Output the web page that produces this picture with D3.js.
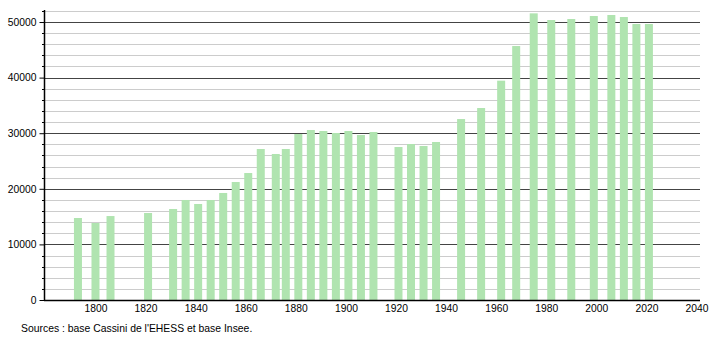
<!DOCTYPE html>
<html>
<head>
<meta charset="utf-8">
<script src="https://cdn.jsdelivr.net/npm/d3@7"></script>
<style>
  html, body { margin: 0; padding: 0; background: #fff; }
  svg text { font-family: "Liberation Sans", Arial, sans-serif; font-size: 10px; fill: #000; }
</style>
</head>
<body>
<div id="chart"></div>
<script>
// Population par recensement
var years = [1793, 1800, 1806, 1821, 1831, 1836, 1841, 1846, 1851, 1856, 1861, 1866,
             1872, 1876, 1881, 1886, 1891, 1896, 1901, 1906, 1911, 1921, 1926, 1931,
             1936, 1946, 1954, 1962, 1968, 1975, 1982, 1990, 1999, 2006, 2011, 2016, 2021];
var population = [14750, 13850, 15100, 15650, 16370, 17990, 17270, 17990, 19250, 21220, 22840, 27160,
                  26260, 27160, 29860, 30580, 30400, 30040, 30400, 29680, 30220, 27520, 28060, 27700,
                  28420, 32550, 34530, 39450, 45680, 51560, 50360, 50540, 51080, 51260, 50900, 49640, 49640];
var xTicks = [1800, 1820, 1840, 1860, 1880, 1900, 1920, 1940, 1960, 1980, 2000, 2020, 2040];
var yMajor = [0, 10000, 20000, 30000, 40000, 50000];
var sourceText = "Sources : base Cassini de l'EHESS et base Insee.";

var W = 710, H = 340;
var svg = d3.select('#chart').append('svg').attr('width', W).attr('height', H);

var x = d3.scaleLinear().domain([1780, 2042]).range([45.4, 701.5]);
var y = d3.scaleLinear().domain([0, 52000]).range([300, 10.9]);
var yMinor = d3.range(2000, 52001, 2000).filter(function(v) { return v % 10000 !== 0; });

// minor grid
svg.append('g').selectAll('line').data(yMinor).enter().append('line')
    .attr('x1', 44).attr('x2', 700)
    .attr('y1', function(d) { return Math.round(y(d)) + 0.5; })
    .attr('y2', function(d) { return Math.round(y(d)) + 0.5; })
    .attr('stroke', '#cccccc').attr('stroke-width', 1);

// major grid
svg.append('g').selectAll('line').data(yMajor.filter(function(v) { return v > 0; })).enter().append('line')
    .attr('x1', 44).attr('x2', 700)
    .attr('y1', function(d) { return Math.round(y(d)) + 0.5; })
    .attr('y2', function(d) { return Math.round(y(d)) + 0.5; })
    .attr('stroke', '#444').attr('stroke-width', 1);

// bars
svg.append('g').selectAll('rect').data(years).enter().append('rect')
    .attr('x', function(d) { return x(d) - 4; })
    .attr('width', 8)
    .attr('y', function(d, i) { return y(population[i]); })
    .attr('height', function(d, i) { return y(0) - y(population[i]); })
    .attr('fill', '#b0e4b0');

// y axis
var yAxis = svg.append('g').attr('transform', 'translate(44.5,0)')
    .call(d3.axisLeft(y).tickValues(yMajor).tickSize(5).tickPadding(3).tickFormat(d3.format('d')));
yAxis.select('.domain').remove();
yAxis.selectAll('line').attr('stroke', '#000');
yAxis.selectAll('text').attr('font-family', null).style('font-size', '10.3px');
svg.append('g').selectAll('line').data(yMinor).enter().append('line')
    .attr('x1', 42).attr('x2', 44)
    .attr('y1', function(d) { return Math.round(y(d)) + 0.5; })
    .attr('y2', function(d) { return Math.round(y(d)) + 0.5; })
    .attr('stroke', '#000');
svg.append('line').attr('x1', 44.5).attr('x2', 44.5).attr('y1', 10).attr('y2', 300.5)
    .attr('stroke', '#000').attr('stroke-width', 1.5);

// x axis
var xAxis = svg.append('g').attr('transform', 'translate(0,300)')
    .call(d3.axisBottom(x).tickValues(xTicks).tickSize(0).tickPadding(5).tickFormat(d3.format('d')));
xAxis.select('.domain').remove();
xAxis.selectAll('text').attr('font-family', null).style('font-size', '10.3px');
svg.append('line').attr('x1', 44).attr('x2', 700).attr('y1', 300.5).attr('y2', 300.5)
    .attr('stroke', '#000').attr('stroke-width', 1.5);

// source
svg.append('text').attr('x', 21).attr('y', 332).style('font-size', '10.4px').text(sourceText);
</script>
</body>
</html>
